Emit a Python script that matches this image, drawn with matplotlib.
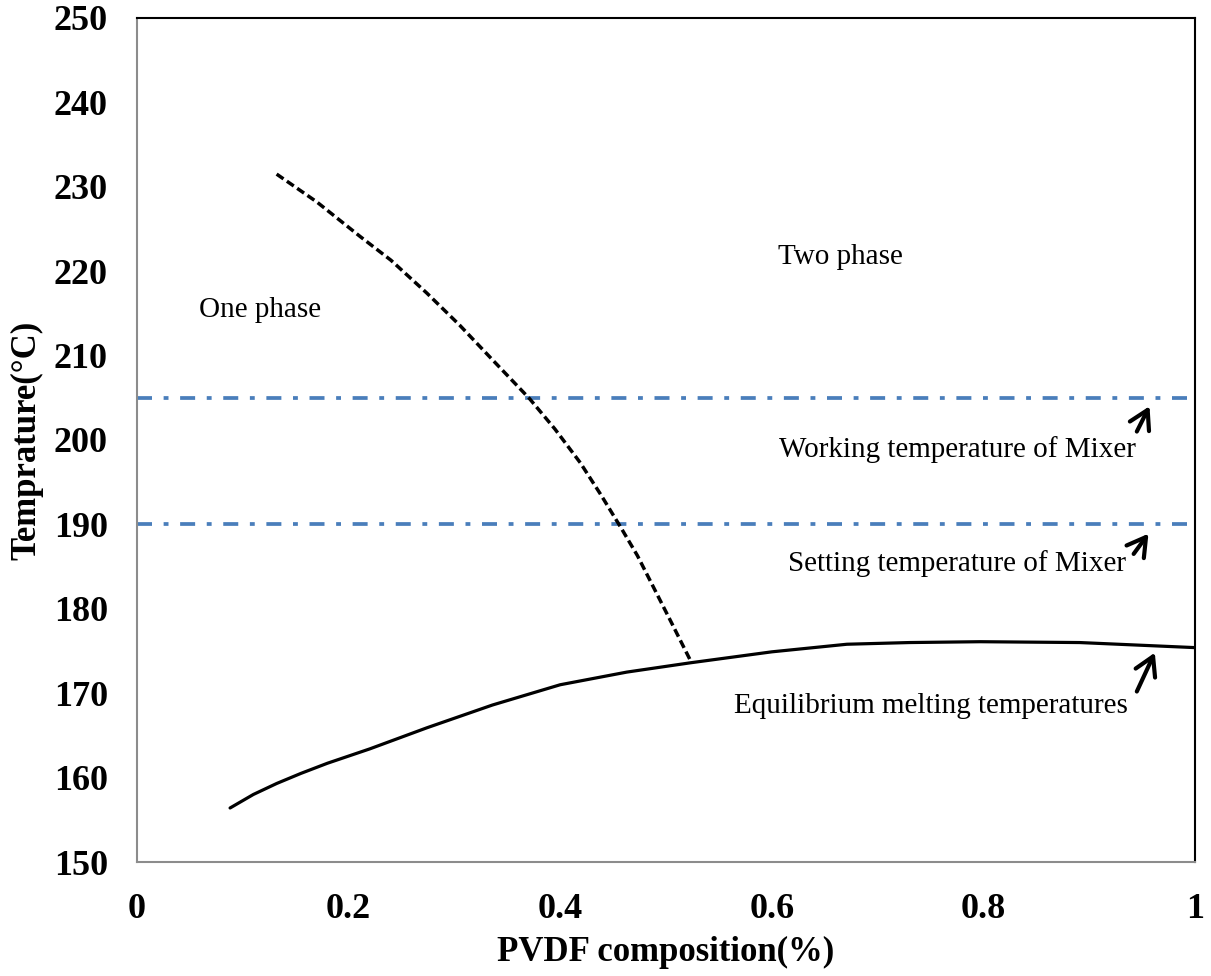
import matplotlib.pyplot as plt

# binodal (dashed) and melting point (solid) curves
binodal_x = [0.132, 0.170, 0.211, 0.240, 0.274, 0.305, 0.336, 0.371, 0.395, 0.419, 0.438, 0.457, 0.473, 0.488, 0.505, 0.523]
binodal_t = [231.5, 228.2, 224.1, 221.3, 217.4, 213.6, 209.5, 204.9, 201.3, 197.3, 193.6, 189.7, 186.3, 182.6, 178.4, 173.9]

melt_x = [0.088, 0.110, 0.132, 0.155, 0.180, 0.220, 0.274, 0.336, 0.400, 0.463, 0.523, 0.600, 0.671, 0.730, 0.797, 0.891, 1.000]
melt_t = [156.4, 158.0, 159.3, 160.5, 161.7, 163.4, 165.9, 168.6, 171.0, 172.5, 173.6, 174.9, 175.8, 176.0, 176.1, 176.0, 175.4]

working_t = 205
setting_t = 190

x_ticks = [0, 0.2, 0.4, 0.6, 0.8, 1.0]
x_tick_labels = ['0', '0.2', '0.4', '0.6', '0.8', '1']
y_ticks = list(range(150, 251, 10))

plt.rcParams['font.family'] = ['Liberation Serif', 'DejaVu Serif']

fig = plt.figure(figsize=(12.11, 9.76), dpi=100)
ax = fig.add_axes([0.1131, 0.1168, 0.8737, 0.8648])

blue = '#4a7ebb'
ax.plot([0, 0.995], [working_t, working_t], color=blue, lw=2.7, dashes=(4.0, 3.1, 1.3, 3.1))
ax.plot([0, 0.995], [setting_t, setting_t], color=blue, lw=2.7, dashes=(4.0, 3.1, 1.3, 3.1))
ax.plot(binodal_x, binodal_t, color='black', lw=2.5, dashes=(2.4, 1.2))
ax.plot(melt_x, melt_t, color='black', lw=2.3, solid_capstyle='round')

ax.set_xlim(0, 1)
ax.set_ylim(150, 250)
ax.set_xticks(x_ticks)
ax.set_xticklabels(x_tick_labels)
ax.set_yticks(y_ticks)
ax.tick_params(length=0, labelsize=26)
ax.tick_params(axis='y', pad=21)
ax.tick_params(axis='x', pad=22)
for lab in ax.get_xticklabels() + ax.get_yticklabels():
    lab.set_fontweight('bold')

for side in ['left', 'bottom']:
    ax.spines[side].set_color('#8c8c8c')
    ax.spines[side].set_linewidth(1.5)
for side in ['top', 'right']:
    ax.spines[side].set_color('black')
    ax.spines[side].set_linewidth(1.5)

ax.set_xlabel('PVDF composition(%)', fontsize=25, fontweight='bold', va='center')
ax.set_ylabel('Temprature(°C)', fontsize=25, fontweight='bold', va='center')
ax.xaxis.set_label_coords(0.5, -0.107)
ax.yaxis.set_label_coords(-0.104, 0.5)

fs = 21
ax.text(0.116, 215.4, 'One phase', fontsize=fs, ha='center', va='center')
ax.text(0.665, 221.7, 'Two phase', fontsize=fs, ha='center', va='center')
ax.text(0.775, 198.9, 'Working temperature of Mixer', fontsize=fs, ha='center', va='center')
ax.text(0.775, 185.4, 'Setting temperature of Mixer', fontsize=fs, ha='center', va='center')
ax.text(0.750, 168.5, 'Equilibrium melting temperatures', fontsize=fs, ha='center', va='center')

arrow = dict(arrowstyle='->,head_length=0.6,head_width=0.35', lw=3, color='black',
             mutation_scale=22, shrinkA=0, shrinkB=0)
ax.annotate('', xy=(0.957, 204.0), xytext=(0.945, 201.0), arrowprops=arrow)
ax.annotate('', xy=(0.956, 188.9), xytext=(0.942, 186.5), arrowprops=arrow)
ax.annotate('', xy=(0.962, 174.8), xytext=(0.945, 170.2), arrowprops=arrow)

fig.savefig('out.png', dpi=100)
